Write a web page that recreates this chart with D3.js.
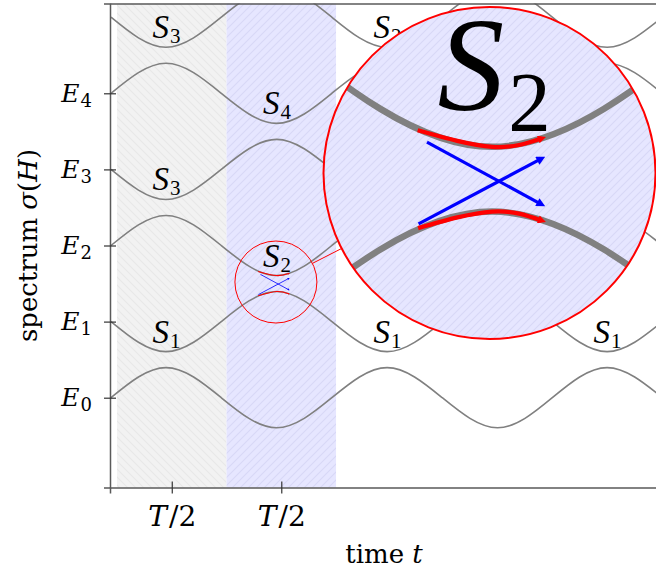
<!DOCTYPE html>
<html>
<head>
<meta charset="utf-8">
<script src="https://cdn.jsdelivr.net/npm/d3@7"></script>
<style>
  html, body { margin: 0; padding: 0; background: #fff; }
  svg { display: block; }
  text { font-family: "DejaVu Serif", serif; fill: #000; }
  .step { font-family: "Liberation Serif", "DejaVu Serif", serif; }
</style>
</head>
<body>
<svg id="chart" width="656" height="584"></svg>
<script>
// Time in units of half a driving period, energy in units of the level spacing.
const tKeys  = [-0.055, 0.447, 0.952, 1.457, 1.962, 2.466, 2.970, 3.475, 3.975, 4.475, 4.98];
const level0 = [0, 0.395, 0, -0.395, 0, 0.395, 0, -0.395, 0, 0.395, 0];
const level1 = [1, 0.605, 1, 1.395, 1, 0.605, 1, 1.395, 1, 0.605, 1];
const level2 = [2, 2.395, 2, 1.605, 2, 2.395, 2, 1.605, 2, 2.395, 2];
const level3 = [3, 2.605, 3, 3.395, 3, 2.605, 3, 3.395, 3, 2.605, 3];
const level4 = [4, 4.395, 4, 3.605, 4, 4.395, 4, 3.605, 4, 4.395, 4];
const level5 = [5, 4.605, 5, 5.395, 5, 4.605, 5, 5.395, 5, 4.605, 5];
const levels = [level0, level1, level2, level3, level4, level5];

const yTicks = [0, 1, 2, 3, 4];
const yTickSubs = ["0", "1", "2", "3", "4"];
const xTicks = [0.5, 1.5];
const xTickLabels = ["T/2", "T/2"];

// shaded half periods
const bandFrom = [0, 1];
const bandTo   = [1, 2];
const bandKind = ["gray", "blue"];

// S_k labels sitting on the level minima
const labelT   = [0.447, 0.447, 0.447, 1.457, 1.457, 2.466, 2.466, 4.475];
const labelE   = [4.605, 2.605, 0.605, 3.605, 1.605, 4.605, 0.605, 0.605];
const labelIdx = ["3", "3", "1", "4", "2", "2", "1", "1"];

// adiabatic (red) and diabatic (blue) passages through the avoided crossing
const redUpper = [[1.289, 1.659], [1.457, 1.605], [1.568, 1.632]];
const redLower = [[1.290, 1.341], [1.457, 1.395], [1.568, 1.366]];
const blueA    = [[1.310, 1.620], [1.566, 1.420]];
const blueB    = [[1.291, 1.355], [1.566, 1.565]];

const plot = { left: 110, right: 658, top: 3.5, bottom: 487.5 };

const svg = d3.select("#chart");
const defs = svg.append("defs");

const x = d3.scaleLinear().domain([-0.064, 4.94]).range([plot.left, plot.right]);
const y = d3.scaleLinear().domain([-1.18, 5.18]).range([plot.bottom, plot.top]);

// hatch patterns
function hatch(id, bg, fg, rising) {
  const p = defs.append("pattern").attr("id", id)
    .attr("patternUnits", "userSpaceOnUse").attr("width", 8).attr("height", 8);
  p.append("rect").attr("width", 8).attr("height", 8).attr("fill", bg);
  const d = rising ? "M-2,2 L2,-2 M0,8 L8,0 M6,10 L10,6" : "M-2,6 L2,10 M0,0 L8,8 M6,-2 L10,2";
  p.append("path").attr("d", d).attr("stroke", fg).attr("stroke-width", 1.1);
}
hatch("hatch-gray", "#f2f2f2", "#e8e8e8", false);
hatch("hatch-blue", "#e6e6ff", "#d8d8f7", true);

defs.append("clipPath").attr("id", "plot-clip")
  .append("rect").attr("x", plot.left).attr("y", plot.top)
  .attr("width", plot.right - plot.left).attr("height", plot.bottom - plot.top);

function marker(id, color, w, h) {
  defs.append("marker").attr("id", id)
    .attr("viewBox", "0 0 10 10").attr("refX", 4).attr("refY", 5)
    .attr("markerUnits", "userSpaceOnUse")
    .attr("markerWidth", w).attr("markerHeight", h)
    .attr("orient", "auto")
    .append("path").attr("d", "M0,0 L10,5 L0,10 z").attr("fill", color);
}
marker("head-red", "#ff0000", 3.2, 2.0);
marker("head-blue", "#0000ff", 3.0, 2.2);

// bands
svg.append("g").selectAll("rect").data(bandFrom.map((f, i) => i)).join("rect")
  .attr("x", i => x(bandFrom[i]))
  .attr("y", plot.top)
  .attr("width", i => x(bandTo[i]) - x(bandFrom[i]))
  .attr("height", plot.bottom - plot.top)
  .attr("fill", i => bandKind[i] === "gray" ? "url(#hatch-gray)" : "url(#hatch-blue)");

const line = d3.line().x(d => x(d[0])).y(d => y(d[1])).curve(d3.curveNatural);
const straight = d3.line().x(d => x(d[0])).y(d => y(d[1]));

function drawScene(g, labelFilter) {
  g.append("g").attr("clip-path", "url(#plot-clip)")
    .selectAll("path").data(levels).join("path")
    .attr("d", vals => line(vals.map((v, i) => [tKeys[i], v])))
    .attr("fill", "none").attr("stroke", "#808080").attr("stroke-width", 1.6);

  [redUpper, redLower].forEach(pts => {
    g.append("path").attr("d", line(pts)).attr("fill", "none")
      .attr("stroke", "#ff0000").attr("stroke-width", 1.05)
      .attr("marker-end", "url(#head-red)");
  });
  [blueA, blueB].forEach(pts => {
    g.append("path").attr("d", straight(pts))
      .attr("fill", "none").attr("stroke", "#0000ff").attr("stroke-width", 0.8)
      .attr("marker-end", "url(#head-blue)");
  });

  labelT.forEach((t, i) => {
    if (!labelFilter(x(t), y(labelE[i]))) return;
    const tx = g.append("text").attr("class", "step")
      .attr("x", x(t) + 0.5).attr("y", y(labelE[i]) - 9)
      .attr("text-anchor", "middle").attr("font-size", 33);
    tx.append("tspan").attr("font-style", "italic").text("S");
    tx.append("tspan").attr("font-size", 21).attr("dx", 1).attr("dy", 5).text(labelIdx[i]);
  });
}

drawScene(svg.append("g"), () => true);

// axes
const axisStroke = "#5a5a5a";
function styleAxis(g) {
  g.select(".domain").attr("stroke", axisStroke).attr("stroke-width", 1.5);
  g.selectAll(".tick line").attr("stroke", "#333").attr("stroke-width", 1.2);
}
const gLeft = svg.append("g").attr("transform", `translate(${plot.left},0)`)
  .call(d3.axisLeft(y).tickValues(yTicks).tickSizeOuter(0).tickSize(6).tickFormat(""));
gLeft.selectAll(".tick line").attr("x1", 6).attr("x2", -6);
styleAxis(gLeft);
gLeft.selectAll(".tick").each(function (d, i) {
  const tx = d3.select(this).append("text")
    .attr("x", -18).attr("y", 8).attr("text-anchor", "end")
    .attr("font-size", 25).attr("fill", "#000");
  tx.append("tspan").attr("font-style", "italic").text("E");
  tx.append("tspan").attr("font-size", 18).attr("dx", 1).attr("dy", 5).text(yTickSubs[i]);
});

const gBottom = svg.append("g").attr("transform", `translate(0,${plot.bottom})`)
  .call(d3.axisBottom(x).tickValues(xTicks).tickSizeOuter(0).tickSize(6).tickFormat(""));
gBottom.selectAll(".tick line").attr("y1", -6).attr("y2", 6);
styleAxis(gBottom);
gBottom.selectAll(".tick").each(function (d, i) {
  const parts = xTickLabels[i].split("/");
  const tx = d3.select(this).append("text")
    .attr("y", 38).attr("text-anchor", "middle")
    .attr("font-size", 28).attr("fill", "#000");
  tx.append("tspan").attr("font-style", "italic").text(parts[0]);
  tx.append("tspan").attr("dx", 2).text("/" + parts[1]);
});

const gTop = svg.append("g").attr("transform", `translate(0,${plot.top})`)
  .call(d3.axisTop(x).tickValues([]).tickSizeOuter(0));
styleAxis(gTop);
const gRight = svg.append("g").attr("transform", `translate(${plot.right},0)`)
  .call(d3.axisRight(y).tickValues([]).tickSizeOuter(0));
styleAxis(gRight);

// axis titles
const xt = svg.append("text").attr("x", (plot.left + plot.right) / 2).attr("y", 563)
  .attr("text-anchor", "middle").attr("font-size", 26);
xt.append("tspan").text("time ");
xt.append("tspan").attr("font-style", "italic").text("t");

const yt = svg.append("text")
  .attr("transform", `translate(37,${(plot.top + plot.bottom) / 2}) rotate(-90)`)
  .attr("text-anchor", "middle").attr("font-size", 26);
yt.append("tspan").text("spectrum ");
yt.append("tspan").attr("font-style", "italic").text("σ");
yt.append("tspan").text("(");
yt.append("tspan").attr("font-style", "italic").text("H");
yt.append("tspan").text(")");

// magnifier on the avoided crossing
const lens = { cx: x(1.451), cy: y(1.52), r: 41, bx: 489.5, by: 173, R: 166 };
const k = lens.R / lens.r;

svg.append("circle").attr("cx", lens.cx).attr("cy", lens.cy).attr("r", lens.r)
  .attr("fill", "none").attr("stroke", "#ff0000").attr("stroke-width", 1);

const dx = lens.bx - lens.cx, dy = lens.by - lens.cy, dist = Math.hypot(dx, dy);
const ux = dx / dist, uy = dy / dist;
svg.append("line")
  .attr("x1", lens.cx + ux * lens.r).attr("y1", lens.cy + uy * lens.r)
  .attr("x2", lens.bx - ux * lens.R).attr("y2", lens.by - uy * lens.R)
  .attr("stroke", "#ff0000").attr("stroke-width", 1);

defs.append("clipPath").attr("id", "lens-clip")
  .append("circle").attr("cx", lens.bx).attr("cy", lens.by).attr("r", lens.R);

svg.append("circle").attr("cx", lens.bx).attr("cy", lens.by).attr("r", lens.R)
  .attr("fill", "url(#hatch-blue)");
const magnified = svg.append("g").attr("clip-path", "url(#lens-clip)")
  .append("g")
  .attr("transform", `translate(${lens.bx},${lens.by}) scale(${k}) translate(${-lens.cx},${-lens.cy})`);
drawScene(magnified, (px, py) => Math.hypot(px - lens.cx, py - lens.cy) < lens.r);
svg.append("circle").attr("cx", lens.bx).attr("cy", lens.by).attr("r", lens.R)
  .attr("fill", "none").attr("stroke", "#ff0000").attr("stroke-width", 2);
</script>
</body>
</html>
